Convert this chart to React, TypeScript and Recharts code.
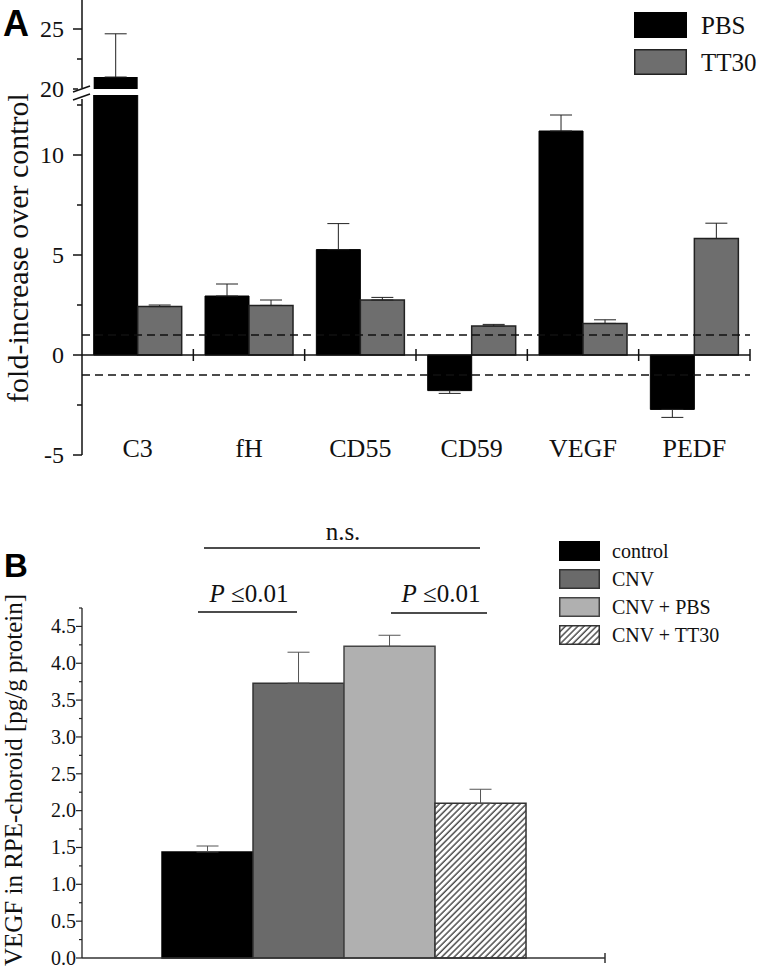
import React from 'react';
import { BarChart, Bar, XAxis, YAxis, ErrorBar, ReferenceLine, Legend } from 'recharts';

const serif = '"Liberation Serif", "Times New Roman", serif';
const sans = '"Liberation Sans", Arial, sans-serif';

// Panel A: fold-increase over control
const genes = ['C3', 'fH', 'CD55', 'CD59', 'VEGF', 'PEDF'];
const pbsFold = [21.0, 2.95, 5.27, -1.78, 11.2, -2.72];
const pbsErr = [3.6, 0.6, 1.3, 0.14, 0.8, 0.4];
const tt30Fold = [2.42, 2.48, 2.75, 1.45, 1.58, 5.82];
const tt30Err = [0.08, 0.27, 0.13, 0.08, 0.18, 0.77];
const lowerTicks = [-5, -2.5, 0, 2.5, 5, 7.5, 10, 12.5];
const upperTicks = [20, 22.5, 25, 27.5];
const lowerDomain = [-5, 13];
const upperDomain = [20, 27.5];
const thresholds = [1, -1];

// Panel B: VEGF in RPE-choroid
const groups = ['control', 'CNV', 'CNV + PBS', 'CNV + TT30'];
const vegfLevel = [1.44, 3.73, 4.23, 2.1];
const vegfErr = [0.08, 0.42, 0.15, 0.19];
const vegfTicks = [0, 0.25, 0.5, 0.75, 1, 1.25, 1.5, 1.75, 2, 2.25, 2.5, 2.75, 3, 3.25, 3.5, 3.75, 4, 4.25, 4.5, 4.75];

// error bars point away from zero only
const oneSided = (v: number, e: number) => (v >= 0 ? [0, e] : [e, 0]);

const lowerData = genes.map((g, i) => ({
  name: g,
  PBS: pbsFold[i],
  TT30: tt30Fold[i],
  pbsErr: pbsFold[i] > lowerDomain[1] ? null : oneSided(pbsFold[i], pbsErr[i]),
  tt30Err: oneSided(tt30Fold[i], tt30Err[i]),
}));

const upperData = genes.map((g, i) => ({
  name: g,
  PBS: pbsFold[i] > upperDomain[0] ? pbsFold[i] : null,
  TT30: tt30Fold[i] > upperDomain[0] ? tt30Fold[i] : null,
  pbsErr: pbsFold[i] > upperDomain[0] ? oneSided(pbsFold[i], pbsErr[i]) : null,
}));

const vegfRow: any = { name: 'VEGF' };
groups.forEach((g, i) => {
  vegfRow[g] = vegfLevel[i];
  vegfRow[g + '_err'] = [0, vegfErr[i]];
});
const vegfData = [vegfRow];

const groupStyle: Record<string, { fill: string; stroke: string }> = {
  control: { fill: '#000', stroke: '#000' },
  CNV: { fill: '#6a6a6a', stroke: '#333' },
  'CNV + PBS': { fill: '#b0b0b0', stroke: '#444' },
  'CNV + TT30': { fill: 'url(#hatch)', stroke: '#333' },
};

const FoldTick = ({ x, y, payload }: any) => {
  const v = payload.value;
  const major = v % 5 === 0;
  return (
    <g>
      <line x1={x - (major ? 9 : 5)} y1={y} x2={x} y2={y} stroke="#111" strokeWidth={1.5} />
      {major && (
        <text x={x - 18} y={y} dy="0.34em" textAnchor="end" style={{ fontFamily: serif }} fontSize={24} fill="#111">
          {v}
        </text>
      )}
    </g>
  );
};

const GeneTick = ({ x, y, payload }: any) => (
  <text x={x} y={y + 2} textAnchor="middle" style={{ fontFamily: serif }} fontSize={26} fill="#111">
    {payload.value}
  </text>
);

const VegfTick = ({ x, y, payload }: any) => {
  const v = payload.value;
  const major = Math.round(v * 100) % 50 === 0;
  return (
    <g>
      <line x1={x - (major ? 6 : 3)} y1={y} x2={x} y2={y} stroke="#222" strokeWidth={1.2} />
      {major && (
        <text x={x - 6} y={y} dy="0.34em" textAnchor="end" style={{ fontFamily: serif }} fontSize={20} fill="#111">
          {v.toFixed(1)}
        </text>
      )}
    </g>
  );
};

// zero line of panel A with ticks at the category boundaries
const ZeroAxisA = (props: any) => {
  const { x1, x2, y1 } = props;
  const step = (x2 - x1) / genes.length;
  return (
    <g>
      <line x1={x1} x2={x2} y1={y1} y2={y1} stroke="#111" strokeWidth={1.5} />
      {genes.map((g, i) => (
        <line key={g} x1={x1 + (i + 1) * step} x2={x1 + (i + 1) * step} y1={y1 - 6} y2={y1 + 6} stroke="#111" strokeWidth={1.5} />
      ))}
    </g>
  );
};

const ZeroAxisB = (props: any) => {
  const { x1, x2, y1 } = props;
  return (
    <g>
      <line x1={x1} x2={x2} y1={y1} y2={y1} stroke="#333" strokeWidth={1.5} />
      <line x1={x2} x2={x2} y1={y1 - 5} y2={y1 + 5} stroke="#333" strokeWidth={1.5} />
    </g>
  );
};

const makeLegend = (box: [number, number], rowGap: number, fontSize: number, textGap: number) => (props: any) => {
  const items = props.payload || [];
  return (
    <svg width={box[0] + textGap + 130} height={items.length * rowGap} style={{ overflow: 'visible' }}>
      {items.map((it: any, i: number) => {
        const st = groupStyle[it.value];
        const fill = st ? st.fill : it.payload?.fill ?? it.color;
        const stroke = st ? st.stroke : it.payload?.stroke ?? '#000';
        return (
          <g key={it.value} transform={`translate(0, ${i * rowGap})`}>
            <rect x={0.75} y={0.75} width={box[0] - 1.5} height={box[1] - 1.5} fill={fill} stroke={stroke} strokeWidth={1.5} />
            <text x={box[0] + textGap} y={box[1] / 2} dy="0.34em" style={{ fontFamily: serif }} fontSize={fontSize} fill="#111">
              {it.value}
            </text>
          </g>
        );
      })}
    </svg>
  );
};

export default function App() {
  return (
    <div style={{ position: 'absolute', left: 0, top: 0, width: 760, height: 968, background: '#fff', overflow: 'hidden' }}>
      {/* Panel A, upper segment above the axis break */}
      <div style={{ position: 'absolute', left: 0, top: -1 }}>
        <BarChart width={760} height={106} data={upperData} margin={{ top: 0, right: 10, bottom: 16, left: 0 }} barGap={0} barCategoryGap="10.5%">
          <XAxis dataKey="name" hide />
          <YAxis
            domain={upperDomain}
            ticks={upperTicks}
            allowDataOverflow
            interval={0}
            width={82}
            tickSize={0}
            tickMargin={0}
            tickLine={false}
            axisLine={{ stroke: '#111', strokeWidth: 1.5 }}
            tick={<FoldTick />}
          />
          <Bar dataKey="PBS" fill="#000" isAnimationActive={false}>
            <ErrorBar dataKey="pbsErr" width={11} stroke="#222" strokeWidth={1} />
          </Bar>
          <Bar dataKey="TT30" fill="#6e6e6e" isAnimationActive={false} />
        </BarChart>
      </div>

      {/* Panel A, lower segment */}
      <div style={{ position: 'absolute', left: 0, top: 95 }}>
        <BarChart width={760} height={390} data={lowerData} margin={{ top: 0, right: 10, bottom: 0, left: 0 }} barGap={0} barCategoryGap="10.5%">
          <XAxis dataKey="name" height={30} axisLine={false} tickLine={false} tickSize={0} tickMargin={0} interval={0} tick={<GeneTick />} />
          <YAxis
            domain={lowerDomain}
            ticks={lowerTicks}
            allowDataOverflow
            interval={0}
            width={82}
            tickSize={0}
            tickMargin={0}
            tickLine={false}
            axisLine={{ stroke: '#111', strokeWidth: 1.5 }}
            tick={<FoldTick />}
          />
          <Legend
            layout="horizontal"
            verticalAlign="middle"
            align="center"
            itemSorter={null}
            wrapperStyle={{ left: 634, top: -83, width: 'auto' }}
            content={makeLegend([53, 26], 37, 25, 14)}
          />
          <Bar dataKey="PBS" name="PBS" fill="#000" stroke="#000" isAnimationActive={false}>
            <ErrorBar dataKey="pbsErr" width={11} stroke="#222" strokeWidth={1} />
          </Bar>
          <Bar dataKey="TT30" name="TT30" fill="#6e6e6e" stroke="#222" strokeWidth={1.5} isAnimationActive={false}>
            <ErrorBar dataKey="tt30Err" width={11} stroke="#222" strokeWidth={1} />
          </Bar>
          {thresholds.map((t) => (
            <ReferenceLine key={t} y={t} stroke="#111" strokeWidth={1.3} strokeDasharray="8 5" />
          ))}
          <ReferenceLine y={0} shape={<ZeroAxisA />} />
        </BarChart>
      </div>

      {/* Panel B */}
      <div style={{ position: 'absolute', left: 0, top: 520 }}>
        <BarChart width={760} height={448} data={vegfData} margin={{ top: 88, right: 155, bottom: 0, left: 0 }} barGap={0} barCategoryGap="15.3%">
          <defs>
            <pattern id="hatch" patternUnits="userSpaceOnUse" width={4.4} height={4.4} patternTransform="rotate(45)">
              <rect width={4.4} height={4.4} fill="#fff" />
              <line x1={1} y1={0} x2={1} y2={4.4} stroke="#333" strokeWidth={1.3} />
            </pattern>
          </defs>
          <XAxis dataKey="name" height={10} axisLine={false} tickLine={false} tick={false} />
          <YAxis
            domain={[0, 4.75]}
            ticks={vegfTicks}
            interval={0}
            width={82}
            tickSize={0}
            tickMargin={0}
            tickLine={false}
            axisLine={{ stroke: '#222', strokeWidth: 1.3 }}
            tick={<VegfTick />}
          />
          <Legend
            layout="horizontal"
            verticalAlign="middle"
            align="center"
            itemSorter={(item: any) => groups.indexOf(item.value)}
            wrapperStyle={{ left: 559, top: 21, width: 'auto' }}
            content={makeLegend([41, 20], 28, 20, 12)}
          />
          {groups.map((g) => (
            <Bar key={g} dataKey={g} name={g} fill={groupStyle[g].fill} stroke={groupStyle[g].stroke} strokeWidth={1.5} isAnimationActive={false}>
              <ErrorBar dataKey={g + '_err'} width={11} stroke="#555" strokeWidth={1} />
            </Bar>
          ))}
          <ReferenceLine y={0} shape={<ZeroAxisB />} />
        </BarChart>
      </div>

      {/* panel letters, axis titles, axis break and significance marks */}
      <svg width={760} height={968} style={{ position: 'absolute', left: 0, top: 0, pointerEvents: 'none' }}>
        <text x={3} y={36} fontFamily={sans} fontWeight="bold" fontSize={36} fill="#000">A</text>
        <text x={4} y={577} fontFamily={sans} fontWeight="bold" fontSize={33} fill="#000">B</text>
        <text transform="translate(28, 248) rotate(-90)" textAnchor="middle" style={{ fontFamily: serif }} fontSize={30} fill="#111">
          fold-increase over control
        </text>
        <text transform="translate(22, 780) rotate(-90)" textAnchor="middle" style={{ fontFamily: serif }} fontSize={25} fill="#111">
          VEGF in RPE-choroid [pg/g protein]
        </text>

        <rect x={78} y={88} width={9} height={11} fill="#fff" />
        <line x1={73} y1={92} x2={90} y2={86} stroke="#111" strokeWidth={1.5} />
        <line x1={73} y1={100} x2={90} y2={94} stroke="#111" strokeWidth={1.5} />

        <text x={343} y={540} textAnchor="middle" style={{ fontFamily: serif }} fontSize={25} fill="#111">n.s.</text>
        <line x1={204} x2={480} y1={548} y2={548} stroke="#111" strokeWidth={1.5} />
        <text x={249} y={602} textAnchor="middle" style={{ fontFamily: serif }} fontSize={25} fill="#111">
          <tspan fontStyle="italic">P</tspan> ≤0.01
        </text>
        <line x1={198} x2={297} y1={612} y2={612} stroke="#111" strokeWidth={1.5} />
        <text x={441} y={602} textAnchor="middle" style={{ fontFamily: serif }} fontSize={25} fill="#111">
          <tspan fontStyle="italic">P</tspan> ≤0.01
        </text>
        <line x1={391} x2={487} y1={613} y2={613} stroke="#111" strokeWidth={1.5} />
      </svg>
    </div>
  );
}
